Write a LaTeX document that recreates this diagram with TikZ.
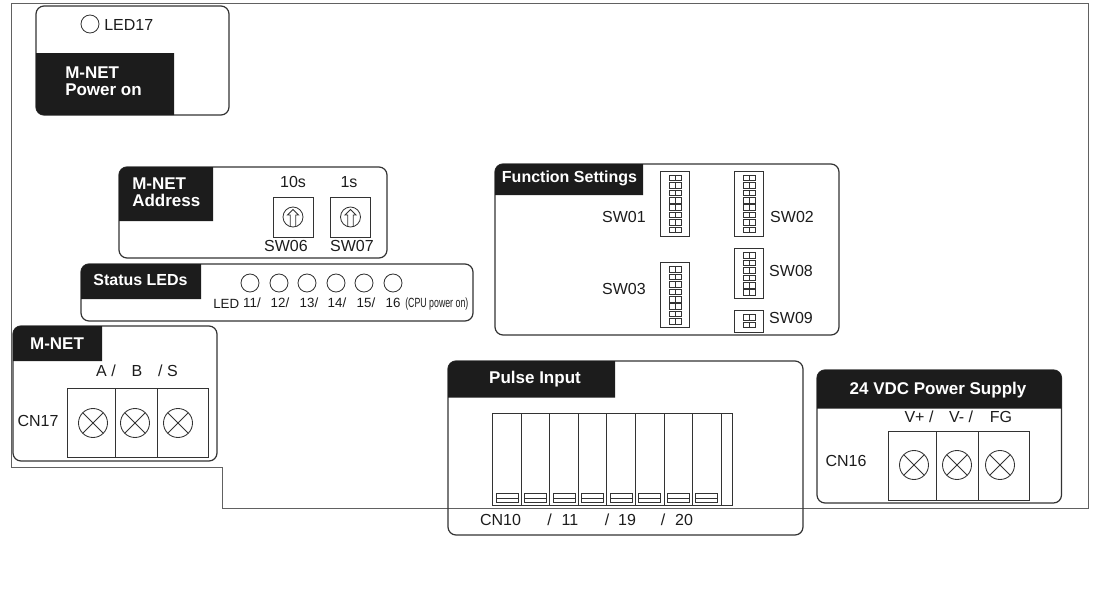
\documentclass[tikz,border=0pt]{standalone}
\usepackage{fontspec}
\setmainfont{Liberation Sans}
\definecolor{ink}{gray}{0.11}
\definecolor{wire}{gray}{0.2}
\tikzset{
  lbl/.style={font=\fontsize{12}{14}\selectfont, text=ink, inner sep=0pt},
  small/.style={font=\fontsize{10}{12}\selectfont, text=ink, inner sep=0pt},
  head/.style={font=\fontsize{12}{12.75}\selectfont\bfseries, text=white, inner sep=0pt, align=left},
  bighead/.style={font=\fontsize{12.75}{12.75}\selectfont\bfseries, text=white, inner sep=0pt, align=left},
  panel/.style={draw=wire, line width=0.9pt, rounded corners=6pt},
  board/.style={draw=black!62, line width=0.65pt},
  hdr/.style={fill=ink},
  part/.style={draw=wire, line width=0.65pt},
  screw/.pic={
    \draw[part] (0,0) circle (14.5);
    \draw[part] (-10.25,-10.25) -- (10.25,10.25) (-10.25,10.25) -- (10.25,-10.25);
  },
  dial/.pic={
    \draw[part] (-20,-20) rectangle (20,20);
    \draw[part] (0,0) circle (10);
    \draw[part] (-2.8,9.6) -- (-2.8,-2) -- (-5.5,-2) -- (0,-7.5) -- (5.5,-2) -- (2.8,-2) -- (2.8,9.6);
  },
  dipcell/.pic={
    \draw[part, line width=0.5pt] (-6,-2.8) rectangle (6,2.8) (0,-2.8) -- (0,2.8);
  }
}
\begin{document}
\begin{tikzpicture}[x=0.75pt, y=-0.75pt]
  \useasboundingbox (0,0) rectangle (1110,600);
  \draw[board] (11,3) -- (1088,3) -- (1088,508) -- (222,508) -- (222,467) -- (11,467) -- cycle;

  \draw[panel] (36,6) rectangle (229,115);
  \fill[hdr] (174,53) -- (36,53) [rounded corners=6pt] -- (36,115) [sharp corners] -- (174,115) -- cycle;
  \draw[part] (90,24) circle (9);
  \node[lbl, anchor=west] (led17) at (104,24.5) {LED17};
  \node[bighead, anchor=west] (powerhead) at (65,81.5) {M-NET\\Power on};

  \draw[panel] (119,167) rectangle (387,258);
  \fill[hdr] (213,221) -- (119,221) [rounded corners=6pt] -- (119,167) [sharp corners] -- (213,167) -- cycle;
  \node[bighead, anchor=west] (addrhead) at (132,192.5) {M-NET\\Address};
  \pic at (293,217) {dial};
  \pic at (350.5,217) {dial};
  \node[lbl] (tens) at (293,182) {10s};
  \node[lbl] (ones) at (349,182) {1s};
  \node[lbl] (sw06) at (286,246) {SW06};
  \node[lbl] (sw07) at (352,246) {SW07};

  \draw[panel] (81,264) rectangle (473,321);
  \fill[hdr] (201,299) -- (81,299) [rounded corners=6pt] -- (81,264) [sharp corners] -- (201,264) -- cycle;
  \node[head] (statushead) at (140.5,279.5) {Status LEDs};
  \foreach \ledx in {250,279,307,336,364,393}
    \draw[part] (\ledx,283) circle (9);
  \node[small, anchor=west] (ledword) at (213,304) {LED};
  \foreach \ledx/\ledtxt in {252/11,280/12,309/13,337/14,366/15}
    \node[small] (led\ledtxt) at (\ledx,303) {\ledtxt/};
  \node[small] (led16) at (393,303) {16};
  \node[small, anchor=west] (cpu) at (405,304) {\scalebox{0.66}[1]{(CPU power on)}};

  \draw[panel] (13,326) rectangle (217,461);
  \fill[hdr] (102,361) -- (13,361) [rounded corners=6pt] -- (13,326) [sharp corners] -- (102,326) -- cycle;
  \node[bighead] (mnethead) at (57,343.5) {M-NET};
  \node[lbl] (termA) at (106,371) {A /};
  \node[lbl] (termB) at (137,371) {B};
  \node[lbl] (termS) at (168,371) {/ S};
  \node[lbl] (cn17) at (38,421) {CN17};
  \draw[part] (67.5,388) rectangle (208,457) (115,388) -- (115,457) (157,388) -- (157,457);
  \foreach \scrx in {93,135,178}
    \pic at (\scrx,423) {screw};

  \draw[panel] (495,164) rectangle (839,335);
  \fill[hdr] (643,195) -- (495,195) [rounded corners=6pt] -- (495,164) [sharp corners] -- (643,164) -- cycle;
  \node[head] (funchead) at (569.5,178.5) {Function Settings};
  \draw[part] (660,171) rectangle (689.5,236);
  \draw[part] (734.5,171) rectangle (763.5,236);
  \draw[part] (660,262) rectangle (689.5,327);
  \draw[part] (734.5,248) rectangle (763.5,298);
  \draw[part] (734.5,310) rectangle (763.5,332);
  \foreach \row in {0,...,7} {
    \pic at (675,{178+\row*7.4}) {dipcell};
    \pic at (749,{178+\row*7.4}) {dipcell};
    \pic at (675,{269.5+\row*7.4}) {dipcell};
  }
  \foreach \row in {0,...,5}
    \pic at (749,{255.5+\row*7.4}) {dipcell};
  \foreach \row in {0,1}
    \pic at (749,{317.5+\row*7.4}) {dipcell};
  \node[lbl] (sw01) at (624,217) {SW01};
  \node[lbl] (sw02) at (792,217) {SW02};
  \node[lbl] (sw03) at (624,289) {SW03};
  \node[lbl] (sw08) at (791,271) {SW08};
  \node[lbl] (sw09) at (791,318) {SW09};

  \draw[panel] (448,361) rectangle (803,535);
  \fill[hdr] (615,397.5) -- (448,397.5) [rounded corners=6pt] -- (448,361) [sharp corners] -- (615,361) -- cycle;
  \node[bighead] (pulsehead) at (535,379.5) {Pulse Input};
  \draw[part] (492,413.5) rectangle (732,505);
  \foreach \divx in {521,549,578,606,635,664,692,721}
    \draw[part] (\divx,413.5) -- (\divx,505);
  \foreach \catx in {507,535.5,564,592.5,621,649.5,678,706.5} {
    \draw[part, line width=0.5pt] (\catx-11,493) rectangle (\catx+11,502);
    \draw[part, line width=0.5pt] (\catx-11,498.5) -- (\catx+11,498.5);
  }
  \node[lbl] (cn10) at (500.5,520) {CN10};
  \node[lbl] (slash1) at (549.5,520) {/};
  \node[lbl] (pin11) at (570,520) {11};
  \node[lbl] (slash2) at (607,520) {/};
  \node[lbl] (pin19) at (627,520) {19};
  \node[lbl] (slash3) at (663,520) {/};
  \node[lbl] (pin20) at (684,520) {20};

  \draw[panel] (817,370) rectangle (1061.5,503);
  \fill[hdr] (817,408.5) [rounded corners=6pt] -- (817,370) -- (1061.5,370) [sharp corners] -- (1061.5,408.5) -- cycle;
  \node[bighead] (powerhdr) at (938,390.5) {24 VDC Power Supply};
  \node[lbl] (vplus) at (919,417) {V+ /};
  \node[lbl] (vminus) at (961,417) {V- /};
  \node[lbl] (fg) at (1001,417) {FG};
  \node[lbl] (cn16) at (846,461) {CN16};
  \draw[part] (888,431) rectangle (1029,500) (936,431) -- (936,500) (978,431) -- (978,500);
  \foreach \scrx in {914,957,1000}
    \pic at (\scrx,465) {screw};
\end{tikzpicture}
\end{document}
